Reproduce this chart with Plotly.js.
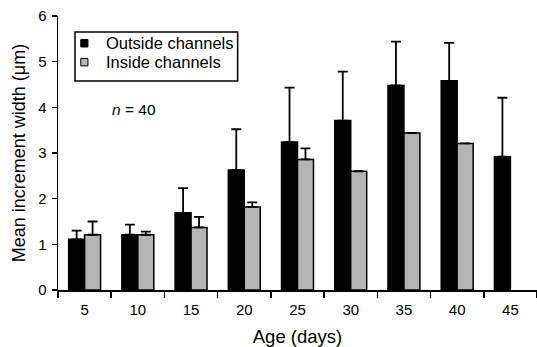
<!DOCTYPE html>
<html>
<head>
<meta charset="utf-8">
<script src="https://cdn.plot.ly/plotly-3.0.1.min.js"></script>
<style>html,body{margin:0;padding:0;background:#fff;}#chart{width:537px;height:347px;}</style>
</head>
<body>
<div id="chart"></div>
<script>
// Data
var ageLabels = ['5', '10', '15', '20', '25', '30', '35', '40', '45'];
var seriesNames = ['Outside channels', 'Inside channels'];
var outsideMean = [1.11, 1.21, 1.69, 2.63, 3.24, 3.71, 4.48, 4.58, 2.92];
var outsideErr  = [0.19, 0.22, 0.54, 0.89, 1.19, 1.07, 0.96, 0.83, 1.29];
var insideMean  = [1.21, 1.21, 1.37, 1.82, 2.86, 2.60, 3.44, 3.21, null];
var insideErr   = [0.29, 0.07, 0.23, 0.10, 0.24, null, null, null, null];
var sampleNote = 'n';
var sampleSize = 40;

var FONT = 'Liberation Sans, Arial, Helvetica, sans-serif';
var BLACK = '#000000';
var GRAY = '#b4b4b4';

function zeros(a){ return a.map(function(){ return 0; }); }

var traces = [
  {
    type: 'bar', name: seriesNames[0], x: ageLabels, y: outsideMean,
    marker: {color: BLACK, line: {color: BLACK, width: 1.5}},
    error_y: {type: 'data', symmetric: false, array: outsideErr, arrayminus: zeros(outsideErr),
              color: BLACK, thickness: 1.8, width: 5},
    showlegend: false, hoverinfo: 'skip'
  },
  {
    type: 'bar', name: seriesNames[1], x: ageLabels, y: insideMean,
    marker: {color: GRAY, line: {color: BLACK, width: 1.5}},
    error_y: {type: 'data', symmetric: false, array: insideErr, arrayminus: zeros(insideErr),
              color: BLACK, thickness: 1.8, width: 5},
    showlegend: false, hoverinfo: 'skip'
  }
];

// Legend box (drawn in paper coordinates)
var lgX0 = 0.0355, lgX1 = 0.375, lgY1 = 0.9416, lgY0 = 0.763;
var shapes = [
  {type: 'rect', xref: 'paper', yref: 'paper', x0: lgX0, x1: lgX1, y0: lgY0, y1: lgY1,
   line: {color: BLACK, width: 1.5}, fillcolor: 'rgba(0,0,0,0)'},
  {type: 'rect', xref: 'paper', yref: 'paper', x0: 0.0475, x1: 0.0625, y0: 0.887, y1: 0.914,
   line: {color: BLACK, width: 1}, fillcolor: BLACK},
  {type: 'rect', xref: 'paper', yref: 'paper', x0: 0.0475, x1: 0.0625, y0: 0.818, y1: 0.845,
   line: {color: BLACK, width: 1}, fillcolor: GRAY}
];

var annotations = [
  {xref: 'paper', yref: 'paper', x: 0.0965, y: 0.9, xanchor: 'left', yanchor: 'middle',
   text: seriesNames[0], showarrow: false, font: {family: FONT, size: 16.5, color: BLACK}},
  {xref: 'paper', yref: 'paper', x: 0.0965, y: 0.831, xanchor: 'left', yanchor: 'middle',
   text: seriesNames[1], showarrow: false, font: {family: FONT, size: 16.5, color: BLACK}},
  {xref: 'paper', yref: 'paper', x: 0.108, y: 0.660, xanchor: 'left', yanchor: 'middle',
   text: '<i>' + sampleNote + '</i> = ' + sampleSize, showarrow: false,
   font: {family: FONT, size: 15.5, color: BLACK}}
];

var layout = {
  width: 537, height: 347,
  margin: {l: 58, r: 0, t: 16, b: 57, pad: 0},
  paper_bgcolor: '#ffffff', plot_bgcolor: '#ffffff',
  font: {family: FONT, size: 15, color: BLACK},
  barmode: 'group', bargap: 0.4, bargroupgap: 0,
  showlegend: false,
  xaxis: {
    type: 'category', range: [-0.5, 8.5], fixedrange: true, automargin: false,
    showline: true, linecolor: BLACK, linewidth: 1.5,
    ticks: 'outside', tickson: 'boundaries', ticklen: 6, tickwidth: 1.5, tickcolor: BLACK,
    ticklabelstandoff: 5,
    showgrid: false, zeroline: false,
    tickfont: {family: FONT, size: 15, color: BLACK},
    title: {text: 'Age (days)', font: {family: FONT, size: 18.5, color: BLACK}, standoff: 14}
  },
  yaxis: {
    range: [0, 6], dtick: 1, fixedrange: true, automargin: false,
    showline: true, linecolor: BLACK, linewidth: 1.5,
    ticks: 'outside', ticklen: 5, tickwidth: 1.5, tickcolor: BLACK,
    ticklabelstandoff: 2,
    showgrid: false, zeroline: false,
    tickfont: {family: FONT, size: 15, color: BLACK},
    title: {text: 'Mean increment width (μm)', font: {family: FONT, size: 18, color: BLACK}, standoff: 8}
  },
  shapes: shapes,
  annotations: annotations
};

Plotly.newPlot('chart', traces, layout, {staticPlot: true, displayModeBar: false});
</script>
</body>
</html>
